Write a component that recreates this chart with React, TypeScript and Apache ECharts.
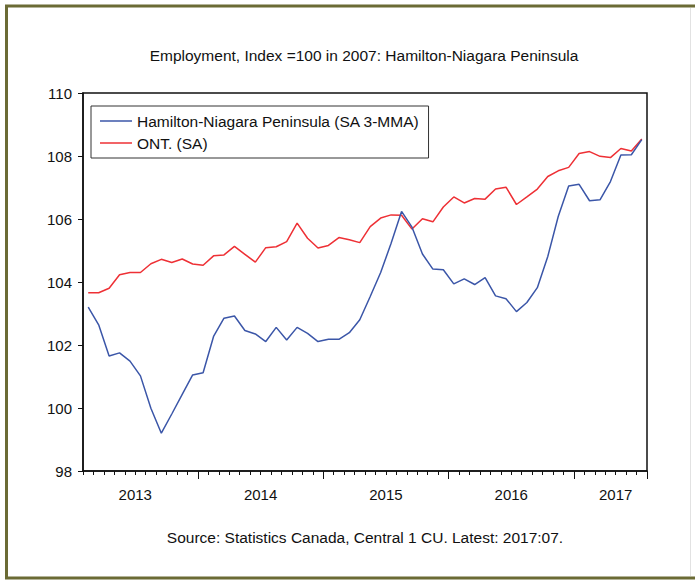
import React, { useEffect, useRef } from "react";
import * as echarts from "echarts";

const months: string[] = [
  "2013-02","2013-03","2013-04","2013-05","2013-06","2013-07","2013-08","2013-09","2013-10","2013-11","2013-12",
  "2014-01","2014-02","2014-03","2014-04","2014-05","2014-06","2014-07","2014-08","2014-09","2014-10","2014-11","2014-12",
  "2015-01","2015-02","2015-03","2015-04","2015-05","2015-06","2015-07","2015-08","2015-09","2015-10","2015-11","2015-12",
  "2016-01","2016-02","2016-03","2016-04","2016-05","2016-06","2016-07","2016-08","2016-09","2016-10","2016-11","2016-12",
  "2017-01","2017-02","2017-03","2017-04","2017-05","2017-06","2017-07",
];

// months at which the year tick labels are drawn
const yearLabelAt: string[] = ["2013-07", "2014-07", "2015-07", "2016-07", "2017-05"];

const hamilton: number[] = [
  103.20, 102.64, 101.65, 101.75, 101.49, 101.02, 99.99, 99.20, 99.81, 100.43, 101.05,
  101.12, 102.27, 102.85, 102.92, 102.46, 102.35, 102.11, 102.56, 102.16, 102.56, 102.37, 102.11,
  102.18, 102.18, 102.39, 102.80, 103.54, 104.30, 105.23, 106.24, 105.74, 104.89, 104.41, 104.39,
  103.94, 104.10, 103.92, 104.14, 103.56, 103.47, 103.06, 103.35, 103.82, 104.81, 106.08, 107.05,
  107.10, 106.58, 106.61, 107.19, 108.03, 108.04, 108.52,
];

const ontario: number[] = [
  103.66, 103.66, 103.80, 104.23, 104.30, 104.30, 104.58, 104.72, 104.62, 104.73, 104.57,
  104.53, 104.83, 104.86, 105.13, 104.88, 104.63, 105.09, 105.12, 105.28, 105.87, 105.39, 105.08,
  105.16, 105.41, 105.34, 105.25, 105.76, 106.03, 106.13, 106.12, 105.68, 106.01, 105.91, 106.38,
  106.70, 106.51, 106.65, 106.63, 106.95, 107.01, 106.46, 106.70, 106.95, 107.35, 107.53, 107.64,
  108.08, 108.14, 107.99, 107.95, 108.24, 108.16, 108.54,
];

const seriesNames: string[] = ["Hamilton-Niagara Peninsula (SA 3-MMA)", "ONT. (SA)"];
const titleText = "Employment, Index =100 in 2007: Hamilton-Niagara Peninsula";
const sourceText = "Source: Statistics Canada, Central 1 CU. Latest: 2017:07.";

const FONT = "'Liberation Sans', Arial, sans-serif";
const BLUE = "#3b56a8";
const RED = "#ee3035";

export default function App() {
  const ref = useRef<HTMLDivElement>(null);
  useEffect(() => {
    if (!ref.current) return;
    const chart = echarts.init(ref.current, undefined, { renderer: "svg" });
    chart.setOption({
      animation: false,
      backgroundColor: "#ffffff",
      grid: {
        left: 83,
        right: 48,
        top: 93,
        bottom: 110,
        show: true,
        borderColor: "#111",
        borderWidth: 1.5,
        backgroundColor: "transparent",
      },
      legend: {
        orient: "vertical",
        left: 91,
        top: 106,
        data: seriesNames,
        icon: "rect",
        backgroundColor: "#fff",
        borderColor: "#333",
        borderWidth: 1,
        padding: [7, 9, 7, 9],
        itemWidth: 32,
        itemHeight: 1.5,
        itemGap: 6,
        textStyle: { fontSize: 15.5, lineHeight: 16, fontFamily: FONT, color: "#111" },
      },
      xAxis: [
        {
          type: "category",
          data: months,
          boundaryGap: true,
          position: "bottom",
          axisLine: { show: true, lineStyle: { color: "#111", width: 1.5 } },
          axisTick: { show: true, interval: 0, length: 4, lineStyle: { color: "#111", width: 1 } },
          axisLabel: {
            show: true,
            interval: (idx: number, val: string) => yearLabelAt.indexOf(val) >= 0,
            formatter: (val: string) => val.slice(0, 4),
            fontSize: 15,
            fontFamily: FONT,
            color: "#111",
            margin: 16,
            padding: [0, 10.4, 0, 0],
          },
          splitLine: { show: false },
        },
        {
          type: "category",
          data: months,
          boundaryGap: true,
          position: "bottom",
          axisLine: { show: false },
          axisTick: {
            show: true,
            interval: (idx: number, val: string) => val.slice(5) === "01",
            length: 8,
            lineStyle: { color: "#111", width: 1 },
          },
          axisLabel: { show: false },
          splitLine: { show: false },
        },
      ],
      yAxis: {
        type: "value",
        min: 98,
        max: 110,
        interval: 2,
        axisLine: { show: true, lineStyle: { color: "#111", width: 1.5 } },
        axisTick: { show: true, length: 5, lineStyle: { color: "#111", width: 1 } },
        axisLabel: { fontSize: 15, fontFamily: FONT, color: "#111", margin: 11 },
        splitLine: { show: false },
      },
      series: [
        {
          name: seriesNames[0],
          type: "line",
          xAxisIndex: 0,
          data: hamilton,
          symbol: "none",
          lineStyle: { color: BLUE, width: 1.5 },
          itemStyle: { color: BLUE },
          z: 3,
        },
        {
          name: seriesNames[1],
          type: "line",
          xAxisIndex: 0,
          data: ontario,
          symbol: "none",
          lineStyle: { color: RED, width: 1.5 },
          itemStyle: { color: RED },
          z: 2,
        },
      ],
      graphic: [
        {
          type: "rect",
          shape: { x: 6.5, y: 6, width: 710, height: 572 },
          style: { fill: "none", stroke: "#6b6b35", lineWidth: 3 },
          silent: true,
        },
        {
          type: "line",
          shape: { x1: 690.5, y1: 8, x2: 690.5, y2: 576 },
          style: { stroke: "#e2e2e2", lineWidth: 1 },
          silent: true,
        },
        {
          type: "text",
          x: 364,
          y: 55,
          style: {
            text: titleText,
            fontSize: 15.5,
            fontFamily: FONT,
            fill: "#111",
            textAlign: "center",
            textVerticalAlign: "middle",
          },
        },
        {
          type: "text",
          x: 365,
          y: 537,
          style: {
            text: sourceText,
            fontSize: 15.5,
            fontFamily: FONT,
            fill: "#111",
            textAlign: "center",
            textVerticalAlign: "middle",
          },
        },
      ],
    });
    return () => chart.dispose();
  }, []);
  return (
    <div
      ref={ref}
      style={{ position: "fixed", left: 0, top: 0, width: 695, height: 581 }}
    />
  );
}
